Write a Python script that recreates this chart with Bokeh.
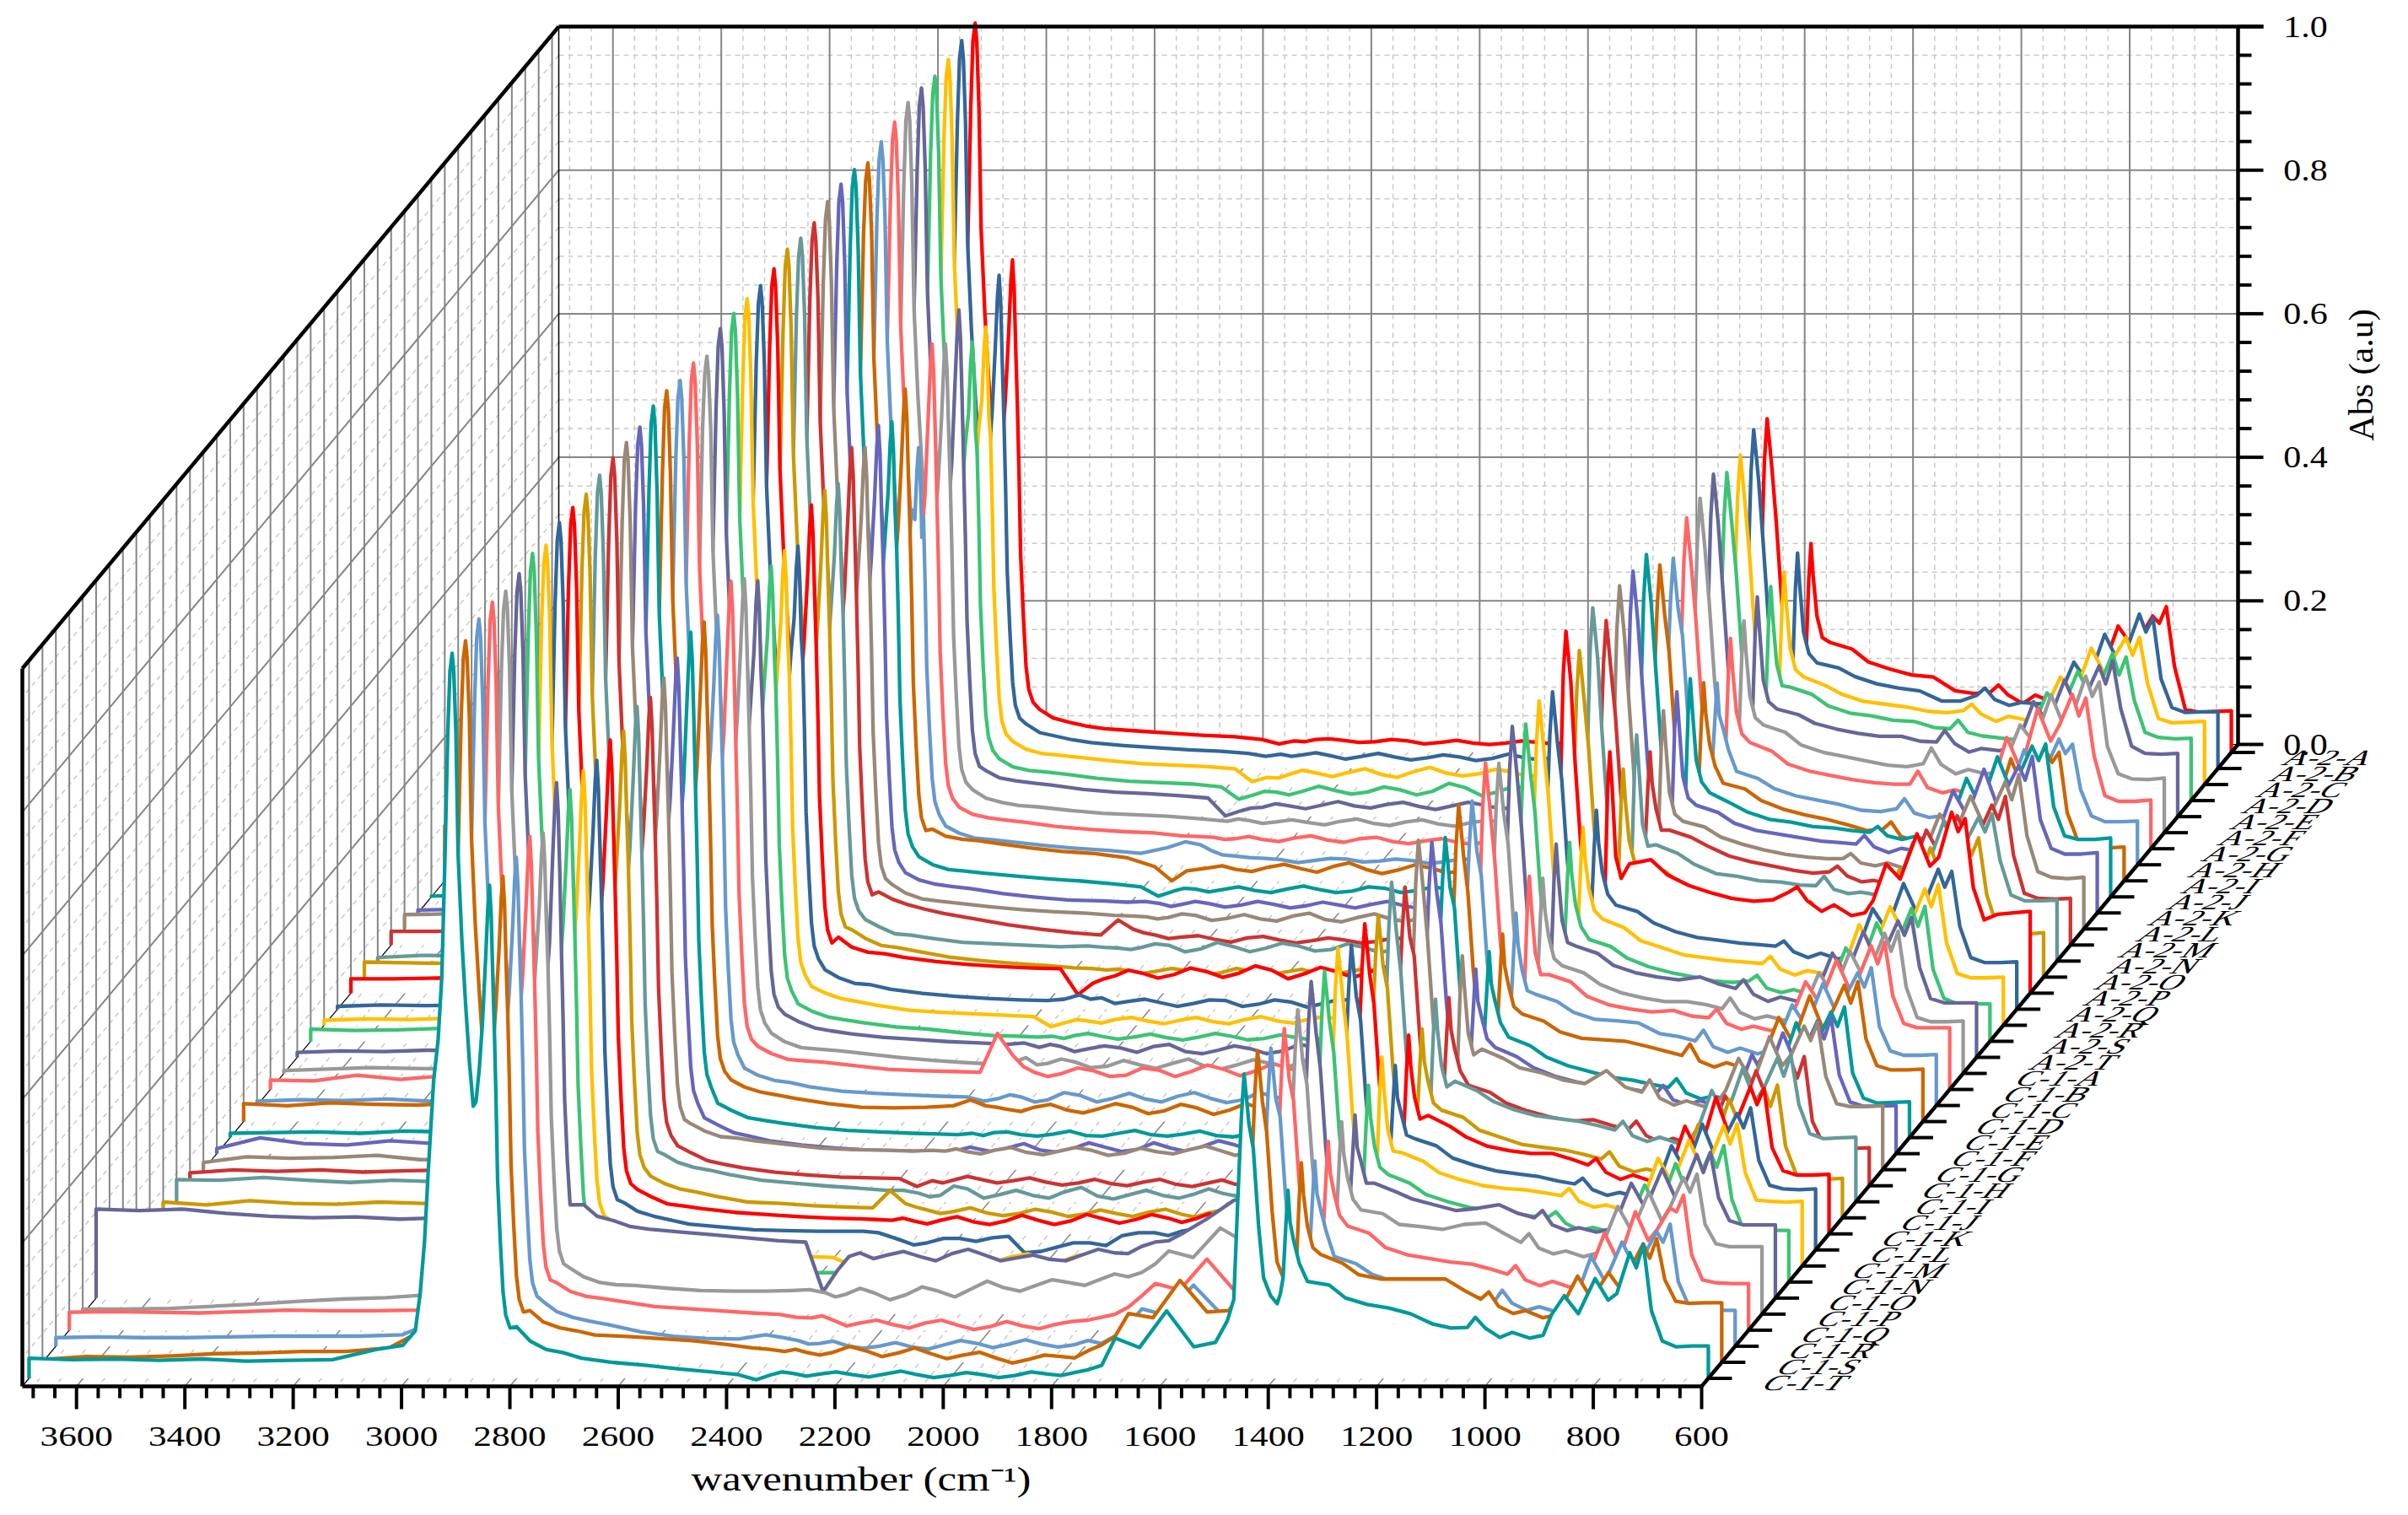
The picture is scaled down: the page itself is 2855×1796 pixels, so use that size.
from bokeh.plotting import figure
from bokeh.embed import file_html
from bokeh.resources import INLINE
from bokeh.core.properties import value
import math

LETTERS = list("ABCDEFGHIJKLMNOPQRST")
SAMPLES = ["A-2-" + c for c in LETTERS] + ["C-1-" + c for c in LETTERS]
COLORS = ["#FF0000", "#336699", "#FFC000", "#3CC374", "#666699", "#999999", "#FF6666", "#6699CC",
          "#CC6600", "#009999", "#6666BB", "#998877", "#CC3333", "#669999", "#CC9900"]

X_TICKS = [3600, 3400, 3200, 3000, 2800, 2600, 2400, 2200, 2000, 1800, 1600, 1400, 1200, 1000, 800, 600]
Y_TICKS = [0.0, 0.2, 0.4, 0.6, 0.8, 1.0]

# wavenumber grids; absorbance is kept in thousandths
LEFT_W = [3700, 3620, 3540, 3460, 3380, 3300, 3220, 3140, 3060, 3010]
# shared band shapes: a number is an absorbance, (1, d) / (2, d) is d below the series' first / second peak top
CH_W = [2987, 2978, 2970, 2963, 2953, 2945, 2938, 2932, 2927, 2923, 2919, 2916, 2912, 2908, 2901, 2894, 2887, 2880,
        2875, 2869, 2863, 2857, 2853, 2850, 2847, 2844, 2841, 2838, 2835, 2830, 2825, 2820, 2812]
CH_A = [66, 118, 190, 290, 416, 470, 560, 731, 900, (1, 25), (1, 0), (1, 25), 900, 730, 610, 520, 440, 379,
        385, 430, 495, (2, 100), (2, 30), (2, 0), (2, 40), (2, 125), 484, 390, 275, 190, 120, 88, 70]
MID_W = [2800, 2775, 2745, 2715, 2680, 2620, 2560, 2500, 2440, 2390, 2358, 2330, 2290, 2240, 2180, 2120, 2060,
         2000, 1940, 1880, 1820, 1770, 1720, 1695, 1650, 1600, 1550, 1510, 1488]
FINE_W = [2310, 2265, 2210, 2150, 2090, 2030, 1970, 1910, 1850, 1795, 1745]
PK_W = [1476, 1468, 1462, 1457, 1453, 1448, 1440, 1430, 1421, 1408, 1396, 1390, 1385, 1380, 1376, 1372, 1365, 1355]
PK_A = [110, 260, (1, 60), (1, 0), (1, 30), (1, 70), 320, 210, 140, 115, 104, 118, 140, (2, 50), (2, 0), (2, 45), 190, 160]
FP_W = [1340, 1300, 1270, 1230, 1190, 1150, 1110, 1075, 1045, 1030, 1012, 985, 962, 930, 905, 890, 866, 840, 809,
        785, 769, 745, 733, 720, 705, 685, 660, 630, 600]

TOP_2920 = [1016, 1014, 1010, 1009, 1015, 1017, 1012, 1007, 1000, 1013, 1015, 1013, 1006, 1007, 1014, 1009, 1008, 1012,
            1014, 1015, 999, 1012, 1010, 1018, 1019, 1012, 1013, 1014, 1012, 1008, 1012, 1013, 1004, 1015, 1009, 1007,
            1014, 1013, 1005, 1010]
TOP_2850 = [686, 687, 637, 639, 706, 681, 703, 581, 685, 662, 679, 671, 693, 665, 678, 680, 645, 661, 662, 664,
            689, 708, 683, 696, 704, 690, 685, 680, 690, 678, 688, 682, 690, 686, 718, 670, 688, 681, 677, 687]
TOP_1457 = [465, 472, 459, 457, 477, 466, 461, 427, 440, 477, 476, 478, 452, 492, 455, 504, 442, 452, 442, 461,
            432, 455, 424, 441, 418, 434, 459, 416, 445, 421, 432, 424, 443, 433, 441, 424, 420, 415, 434, 424]
TOP_1376 = [291, 300, 296, 298, 306, 295, 293, 253, 276, 304, 308, 304, 269, 315, 290, 336, 277, 276, 277, 297,
            272, 297, 268, 261, 259, 257, 298, 262, 282, 263, 277, 257, 291, 274, 255, 268, 263, 258, 278, 262]

LEFT = [
    [12, 13, 12, 13, 14, 12, 13, 12, 14, 17], [18, 17, 18, 19, 17, 18, 17, 19, 18, 22],
    [15, 14, 16, 15, 14, 15, 14, 16, 15, 19], [13, 14, 13, 15, 14, 13, 15, 14, 15, 18],
    [16, 15, 17, 16, 15, 16, 17, 15, 16, 20], [14, 13, 15, 14, 13, 14, 15, 14, 15, 18],
    [12, 13, 12, 14, 12, 13, 12, 14, 13, 16], [10, 11, 10, 12, 11, 10, 12, 11, 13, 15],
    [76, 70, 68, 66, 64, 62, 60, 58, 58, 60], [1, 3, 2, 4, 3, 5, 4, 3, 4, 6],
    [4, 5, 4, 6, 5, 7, 5, 6, 4, 6], [20, 21, 22, 20, 22, 21, 20, 22, 21, 22],
    [19, 19, 20, 18, 21, 19, 20, 19, 21, 20], [5, 8, 7, 10, 9, 7, 10, 8, 9, 11],
    [21, 20, 19, 20, 18, 21, 19, 20, 18, 20], [20, 20, 21, 23, 26, 24, 27, 29, 31, 33],
    [4, 6, 5, 6, 4, 6, 5, 6, 5, 7], [7, 9, 8, 10, 9, 11, 9, 10, 12, 10],
    [17, 15, 16, 18, 15, 17, 16, 18, 16, 17], [7, 9, 8, 10, 8, 9, 10, 9, 11, 12],
    [4, 6, 8, 7, 6, 10, 9, 8, 11, 12], [13, 12, 20, 14, 19, 14, 18, 12, 13, 16],
    [6, 8, 7, 9, 6, 8, 7, 9, 8, 10], [25, 22, 26, 24, 23, 26, 24, 25, 27, 28],
    [6, 7, 8, 6, 9, 8, 10, 9, 10, 10], [7, 22, 14, 12, 18, 14, 20, 25, 28, 32],
    [10, 18, 16, 17, 20, 14, 15, 18, 16, 18], [18, 22, 20, 22, 19, 21, 22, 20, 22, 20],
    [31, 30, 34, 30, 27, 30, 28, 29, 31, 30], [22, 18, 24, 20, 19, 22, 20, 21, 19, 24],
    [18, 17, 19, 18, 16, 18, 20, 18, 19, 24], [16, 17, 18, 16, 19, 18, 17, 20, 22, 26],
    [18, 19, 18, 20, 19, 18, 21, 19, 22, 28], [20, 20, 22, 20, 19, 21, 20, 22, 24, 30],
    [124, 122, 124, 118, 114, 112, 113, 110, 112, 114], [7, 7, 8, 11, 14, 18, 21, 23, 27, 33],
    [25, 26, 25, 24, 26, 28, 27, 27, 28, 36], [12, 13, 12, 12, 13, 14, 14, 14, 16, 32],
    [4, 8, 7, 9, 12, 13, 15, 15, 20, 40], [28, 26, 27, 25, 27, 24, 25, 26, 40, 46],
]

MID = [
    [60, 48, 42, 37, 33, 30, 27, 24, 22, 18, 12, 16, 18, 17, 15, 16, 14, 13, 13, 14, 14, 13, 12, 14, 13, 12, 14, 16, 28],
    [62, 50, 45, 40, 36, 32, 29, 26, 24, 21, 17, 20, 19, 18, 17, 16, 15, 16, 14, 15, 17, 16, 15, 14, 15, 16, 17, 19, 30],
    [60, 49, 43, 41, 38, 33, 29, 27, 25, 22, 4, 10, 14, 16, 17, 14, 18, 16, 15, 18, 14, 20, 16, 15, 17, 18, 16, 20, 32],
    [58, 47, 42, 40, 37, 31, 27, 25, 23, 19, 2, 8, 12, 13, 14, 12, 15, 13, 18, 12, 16, 14, 13, 15, 14, 16, 15, 20, 30],
    [64, 54, 50, 47, 44, 38, 34, 32, 29, 26, 1, 8, 13, 15, 16, 15, 17, 14, 15, 16, 13, 15, 14, 15, 14, 16, 15, 20, 32],
    [60, 48, 42, 38, 36, 31, 27, 25, 23, 20, 18, 16, 17, 15, 14, 16, 13, 15, 12, 14, 15, 14, 13, 12, 13, 15, 14, 18, 28],
    [58, 48, 43, 40, 37, 31, 27, 24, 22, 18, 17, 16, 14, 13, 15, 12, 14, 10, 11, 9, 12, 10, 11, 9, 10, 11, 12, 18, 27],
    [54, 44, 37, 35, 32, 27, 23, 20, 16, 24, 32, 28, 14, 10, 7, 6, 8, 5, 6, 4, 7, 3, 5, 6, 5, 6, 8, 12, 22],
    [72, 62, 58, 56, 52, 46, 41, 38, 32, 20, 0, 14, 18, 16, 19, 17, 20, 16, 15, 18, 14, 16, 17, 14, 16, 15, 14, 18, 28],
    [56, 45, 38, 36, 33, 29, 25, 22, 18, 14, 1, 8, 11, 10, 9, 11, 10, 8, 12, 9, 10, 11, 9, 10, 11, 10, 12, 16, 25],
    [56, 46, 40, 37, 34, 27, 22, 18, 17, 15, 16, 13, 12, 13, 11, 12, 10, 11, 12, 10, 11, 10, 12, 11, 10, 11, 12, 15, 24],
    [62, 50, 42, 39, 36, 31, 27, 24, 22, 19, 18, 17, 16, 19, 15, 14, 18, 13, 16, 14, 17, 15, 14, 16, 15, 13, 16, 18, 26],
    [74, 64, 56, 50, 44, 36, 28, 22, 17, 14, 35, 22, 14, 11, 8, 10, 7, 6, 7, 5, 8, 4, 6, 5, 7, 5, 8, 12, 22],
    [58, 48, 38, 36, 32, 26, 24, 22, 20, 21, 19, 18, 19, 22, 17, 20, 18, 21, 16, 19, 17, 20, 18, 19, 17, 18, 20, 22, 30],
    [66, 54, 44, 41, 36, 28, 23, 19, 16, 13, 12, 10, 9, 8, 9, 6, 8, 7, 5, 8, 6, 9, 7, 6, 8, 7, 9, 14, 24],
    [78, 64, 57, 55, 50, 44, 40, 37, 35, 34, -2, 14, 24, 28, 26, 30, 28, 32, 27, 30, 29, 31, 28, 30, 32, 29, 30, 33, 42],
    [55, 44, 36, 34, 28, 22, 18, 15, 13, 12, 14, 20, 16, 11, 9, 8, 12, 7, 10, 8, 11, 9, 8, 11, 9, 10, 12, 16, 26],
    [54, 45, 37, 33, 28, 21, 18, 16, 14, 12, -2, 4, 6, 8, 6, 7, 5, 8, 6, 9, 7, 5, 8, 6, 7, 6, 9, 13, 24],
    [52, 42, 34, 30, 26, 20, 17, 12, 8, 7, 6, 7, 8, 7, 6, 5, 6, 7, 4, 5, 6, 7, 4, 5, 6, 5, 7, 12, 22],
    [60, 50, 41, 37, 33, 28, 25, 22, 20, 18, 20, 14, 15, 12, 13, 15, 8, 10, 12, 9, 14, 6, 9, 7, 8, 6, 10, 14, 25],
    [56, 44, 36, 34, 32, 27, 22, 18, 15, 13, 14, 22, 14, 16, 10, 12, 14, 10, 12, 14, 16, 18, 12, 14, 16, 15, 18, 22, 32],
    [60, 50, 42, 40, 38, 33, 28, 26, 25, 24, 78, 48, 24, 22, 26, 20, 27, 25, 28, 26, 30, 32, 29, 31, 30, 33, 30, 34, 42],
    [52, 42, 35, 32, 26, 20, 17, 15, 13, 12, 6, 10, 12, 8, 14, 10, 9, 13, 10, 8, 12, 14, 11, 13, 12, 14, 13, 17, 26],
    [58, 48, 41, 37, 32, 25, 20, 19, 20, 22, 30, 22, 17, 20, 16, 18, 20, 15, 19, 16, 18, 14, 17, 15, 16, 17, 15, 18, 28],
    [48, 38, 28, 24, 20, 14, 10, 8, 6, 5, 4, 6, 7, 4, 5, 3, 6, 4, 5, 3, 5, 7, 4, 5, 6, 4, 5, 10, 20],
    [50, 40, 29, 24, 18, 12, 8, 5, 4, 3, 2, 5, 6, 8, 5, 7, 9, 6, 8, 10, 12, 11, 13, 12, 14, 11, 12, 14, 22],
    [64, 54, 46, 44, 40, 35, 30, 28, 27, 26, 27, 26, 25, 27, 24, 26, 27, 23, 25, 28, 26, 24, 27, 26, 28, 27, 30, 32, 40],
    [56, 46, 35, 30, 25, 19, 15, 12, 11, 10, -1, 7, 8, 9, 7, 5, 4, 3, 5, 2, 4, 2, 3, 5, 2, 4, 6, 10, 18],
    [66, 55, 48, 44, 38, 30, 26, 22, 19, 16, 16, 12, 9, 18, 10, 9, 14, 8, 10, 9, 11, 12, 14, 12, 15, 14, 18, 22, 30],
    [58, 48, 40, 36, 30, 22, 20, 17, 15, 14, 38, 20, 11, 9, 7, 6, 8, 5, 6, 8, 5, 7, 4, 6, 5, 7, 8, 12, 22],
    [62, 52, 42, 39, 35, 30, 27, 24, 22, 21, 20, 19, 18, 19, 17, 18, 19, 18, 21, 20, 22, 21, 23, 25, 27, 30, 34, 42, 50],
    [66, 54, 47, 42, 36, 32, 28, 27, 26, 26, 26, 24, 14, 10, 16, 17, -4, 4, 10, 20, 24, 26, 32, 36, 40, 46, 52, 60, 68],
    [64, 52, 44, 38, 30, 24, 18, 15, 13, 12, 2, 8, 10, 12, 8, 11, 13, 10, 14, 16, 18, 20, 26, 30, 36, 42, 50, 58, 66],
    [60, 50, 42, 35, 28, 22, 18, 15, 14, 13, 13, 12, 13, 14, 12, 14, 15, 13, 16, 18, 22, 26, 32, 38, 44, 52, 58, 66, 74],
    [130, 114, 108, 100, 96, 92, 88, 84, 80, 78, 9, 40, 63, 60, 58, 62, 60, 56, 54, 60, 63, 72, 80, 90, 110, 136, 144, 135, 120],
    [64, 52, 44, 41, 40, 36, 33, 32, 32, 33, 34, 30, 28, 30, 27, 32, 35, 37, 40, 44, 49, 52, 70, 88, 79, 120, 98, 85, 80],
    [66, 54, 47, 44, 40, 33, 30, 27, 24, 22, 18, 17, 14, 10, 8, 10, 7, 5, 6, 8, 14, 22, 48, 65, 56, 99, 56, 50, 70],
    [62, 48, 40, 35, 30, 20, 14, 11, 10, 16, 12, 8, 4, 1, 0, -1, 2, 4, 3, 3, 2, 4, 30, 52, 43, 85, 46, 40, 60],
    [72, 56, 48, 44, 38, 36, 33, 30, 25, 20, 18, 15, 14, 14, 16, 13, 12, 10, 6, 4, 8, 16, 36, 68, 62, 114, 70, 72, 95],
    [72, 52, 40, 36, 28, 22, 18, 13, 9, 5, -2, 5, 7, 6, 5, 6, 5, 4, 5, 4, 6, 8, 18, 56, 43, 94, 44, 50, 80],
]

FINE = [
    [15, 19, 14, 18, 12, 17, 11, 16, 12, 16, 11], [17, 22, 13, 21, 12, 19, 11, 20, 12, 19, 13],
    [9, 20, 11, 22, 10, 24, 12, 21, 11, 25, 12], [13, 8, 20, 9, 19, 8, 24, 7, 20, 9, 17],
    [12, 18, 11, 21, 12, 20, 10, 20, 11, 19, 12], [19, 13, 18, 11, 19, 10, 18, 9, 17, 11, 16],
    [13, 17, 10, 18, 9, 16, 7, 14, 6, 15, 8], [20, 12, 9, 3, 9, 4, 8, 2, 8, 1, 7],
    [16, 21, 13, 23, 12, 25, 10, 22, 11, 23, 12], [12, 7, 14, 6, 15, 6, 14, 6, 14, 7, 13],
    [9, 16, 8, 16, 7, 15, 7, 16, 6, 15, 8], [14, 21, 12, 20, 11, 22, 10, 21, 10, 20, 11],
    [17, 9, 13, 4, 12, 3, 10, 3, 10, 2, 9], [16, 24, 13, 26, 13, 25, 14, 24, 12, 25, 13],
    [11, 5, 12, 3, 12, 3, 11, 4, 12, 3, 11], [20, 32, 21, 35, 22, 38, 20, 36, 22, 37, 23],
    [14, 8, 14, 4, 13, 4, 13, 3, 14, 4, 13], [8, 3, 11, 2, 11, 2, 12, 3, 12, 2, 11],
    [4, 11, 3, 10, 2, 11, 2, 9, 2, 11, 2], [18, 8, 16, 7, 18, 5, 16, 5, 18, 3, 12],
    [12, 20, 8, 18, 7, 20, 6, 19, 8, 24, 10], [32, 18, 30, 18, 30, 18, 34, 19, 36, 22, 37],
    [15, 5, 18, 5, 17, 5, 18, 4, 18, 6, 17], [20, 14, 24, 12, 25, 11, 24, 10, 25, 10, 24],
    [3, 8, 2, 9, 2, 10, 2, 9, 1, 10, 2], [9, 2, 14, 2, 15, 3, 15, 3, 18, 6, 18],
    [29, 22, 31, 21, 31, 20, 30, 22, 33, 20, 32], [4, 13, 4, 11, 1, 9, 0, 9, -1, 8, 0],
    [7, 22, 5, 16, 5, 20, 4, 16, 5, 18, 8], [15, 6, 14, 3, 12, 2, 11, 2, 12, 1, 11],
    [22, 14, 24, 13, 26, 13, 27, 15, 27, 16, 28], [19, 7, 16, 12, 19, -2, 10, 6, 24, 20, 30],
    [6, 15, 7, 14, 6, 17, 6, 18, 12, 22, 22], [16, 10, 18, 9, 19, 10, 19, 12, 22, 20, 30],
    [58, 55, 65, 52, 68, 52, 60, 52, 68, 62, 78], [24, 36, 20, 38, 24, 46, 32, 48, 40, 56, 58],
    [20, 6, 14, 3, 14, 1, 12, 2, 12, 18, 32], [3, 7, -3, 5, -4, 8, -2, 9, -1, 8, 14],
    [18, 10, 22, 8, 20, 5, 14, -1, 10, 6, 24], [9, 3, 9, 2, 10, 1, 8, 1, 9, 4, 12],
]

FP = [
    [153, 144, 126, 116, 108, 105, 86, 82, 84, 94, 80, 68, 80, 70, 75, 90, 120, 110, 176, 150, 160, 190, 180, 203, 120, 60, 56, 57, 58],
    [147, 140, 128, 118, 112, 108, 94, 94, 102, 112, 96, 88, 92, 90, 92, 105, 148, 120, 187, 150, 165, 215, 190, 210, 125, 85, 78, 79, 79],
    [150, 138, 126, 116, 112, 108, 102, 100, 103, 112, 98, 88, 95, 90, 92, 110, 150, 125, 190, 155, 175, 205, 180, 205, 140, 92, 86, 87, 88],
    [158, 148, 132, 122, 118, 112, 110, 102, 100, 112, 95, 90, 88, 85, 92, 105, 150, 125, 180, 145, 160, 205, 175, 200, 140, 95, 88, 86, 87],
    [150, 142, 130, 122, 116, 112, 112, 105, 104, 120, 102, 90, 95, 92, 95, 112, 160, 130, 190, 150, 170, 210, 185, 217, 150, 98, 88, 87, 88],
    [150, 140, 122, 112, 106, 100, 94, 92, 96, 118, 95, 82, 88, 82, 84, 105, 150, 125, 192, 148, 165, 218, 190, 210, 120, 82, 75, 74, 76],
    [148, 136, 118, 108, 102, 96, 92, 90, 90, 108, 85, 78, 82, 76, 80, 95, 155, 110, 195, 150, 172, 215, 185, 210, 130, 74, 66, 66, 68],
    [130, 120, 106, 96, 90, 84, 76, 74, 78, 92, 72, 66, 68, 62, 65, 78, 130, 95, 160, 120, 135, 175, 155, 168, 105, 68, 60, 60, 61],
    [136, 128, 112, 100, 92, 86, 78, 70, 72, 82, 62, 55, 60, 52, 56, 70, 130, 92, 170, 125, 140, 182, 165, 179, 95, 55, 47, 46, 47],
    [145, 130, 118, 108, 104, 98, 96, 92, 90, 98, 85, 80, 84, 78, 85, 115, 165, 125, 195, 150, 170, 210, 190, 213, 125, 85, 80, 80, 82],
    [150, 140, 125, 115, 110, 105, 100, 98, 96, 108, 92, 84, 90, 86, 90, 120, 170, 135, 200, 150, 170, 205, 185, 218, 130, 90, 82, 82, 84],
    [150, 142, 128, 118, 110, 104, 100, 98, 98, 105, 92, 88, 92, 84, 90, 115, 160, 130, 185, 145, 165, 205, 180, 215, 130, 80, 72, 70, 72],
    [160, 150, 138, 124, 116, 110, 104, 100, 102, 110, 96, 88, 90, 84, 90, 110, 160, 125, 180, 140, 155, 195, 175, 207, 125, 72, 65, 64, 65],
    [162, 150, 135, 122, 118, 112, 110, 106, 105, 118, 100, 94, 96, 92, 98, 115, 165, 130, 195, 150, 165, 200, 180, 205, 140, 92, 84, 84, 85],
    [160, 148, 130, 118, 110, 105, 98, 92, 94, 105, 88, 80, 82, 78, 82, 100, 150, 115, 180, 135, 150, 190, 170, 194, 115, 68, 60, 60, 62],
    [180, 186, 165, 150, 140, 132, 128, 130, 141, 148, 129, 114, 123, 108, 112, 129, 180, 159, 222, 177, 189, 252, 225, 243, 147, 102, 110, 112, 114],
    [145, 136, 120, 108, 100, 96, 92, 90, 88, 95, 80, 72, 78, 70, 74, 90, 140, 110, 175, 135, 150, 195, 170, 192, 115, 72, 65, 65, 66],
    [148, 136, 118, 108, 98, 94, 90, 88, 86, 96, 78, 70, 76, 72, 75, 90, 140, 105, 165, 130, 145, 190, 165, 196, 115, 72, 66, 66, 67],
    [142, 132, 116, 104, 96, 90, 84, 82, 84, 92, 74, 68, 72, 65, 70, 85, 130, 100, 165, 125, 140, 185, 160, 188, 100, 60, 52, 52, 52],
    [155, 145, 128, 118, 112, 108, 112, 102, 96, 108, 88, 78, 84, 78, 82, 100, 145, 115, 175, 135, 150, 190, 170, 195, 125, 82, 76, 76, 76],
    [150, 140, 124, 112, 105, 100, 100, 96, 90, 105, 85, 76, 80, 74, 80, 98, 140, 110, 170, 135, 150, 195, 170, 198, 120, 78, 72, 72, 73],
    [160, 150, 130, 118, 112, 108, 110, 102, 100, 112, 92, 84, 88, 82, 88, 105, 150, 120, 180, 140, 155, 200, 175, 205, 130, 92, 86, 86, 86],
    [155, 145, 130, 120, 118, 115, 100, 96, 90, 105, 82, 74, 80, 72, 78, 95, 140, 110, 170, 130, 150, 185, 165, 192, 110, 76, 70, 70, 71],
    [150, 140, 125, 116, 114, 112, 105, 98, 92, 108, 84, 76, 82, 74, 80, 98, 145, 110, 175, 130, 150, 190, 165, 195, 115, 78, 72, 72, 73],
    [140, 128, 112, 100, 92, 84, 80, 74, 70, 82, 62, 54, 58, 52, 58, 75, 125, 90, 160, 115, 135, 175, 155, 182, 90, 55, 48, 49, 50],
    [148, 135, 120, 108, 100, 94, 92, 88, 82, 95, 75, 68, 74, 66, 72, 88, 138, 102, 168, 125, 145, 185, 160, 190, 110, 72, 66, 66, 67],
    [168, 155, 142, 135, 125, 120, 138, 115, 108, 125, 100, 90, 96, 88, 94, 110, 155, 120, 185, 145, 160, 200, 180, 205, 130, 92, 88, 88, 89],
    [140, 130, 115, 104, 96, 90, 92, 84, 78, 90, 70, 60, 66, 58, 62, 80, 125, 95, 160, 115, 135, 175, 150, 180, 90, 58, 52, 52, 53],
    [168, 155, 140, 128, 120, 116, 112, 106, 100, 112, 92, 84, 90, 82, 88, 105, 155, 118, 185, 140, 160, 200, 175, 205, 135, 95, 88, 89, 90],
    [150, 140, 122, 112, 102, 98, 94, 88, 82, 92, 72, 64, 68, 62, 66, 82, 130, 95, 165, 120, 140, 180, 155, 185, 100, 60, 55, 54, 55],
    [165, 150, 135, 122, 116, 112, 112, 104, 96, 105, 86, 76, 82, 74, 78, 95, 150, 110, 190, 140, 160, 205, 180, 203, 120, 88, 82, 82, 83],
    [155, 145, 128, 118, 110, 106, 102, 96, 92, 100, 84, 76, 80, 74, 78, 95, 145, 110, 175, 130, 155, 190, 170, 198, 125, 90, 85, 84, 85],
    [158, 146, 130, 120, 112, 108, 106, 102, 98, 108, 90, 82, 85, 78, 82, 100, 150, 115, 175, 135, 150, 195, 170, 198, 130, 92, 90, 89, 90],
    [150, 138, 122, 112, 104, 100, 96, 92, 90, 98, 82, 72, 76, 70, 74, 92, 135, 100, 165, 120, 140, 180, 160, 190, 115, 75, 72, 72, 72],
    [160, 148, 138, 130, 122, 125, 130, 118, 112, 122, 102, 94, 98, 92, 96, 115, 160, 125, 180, 140, 155, 200, 175, 203, 140, 108, 102, 102, 102],
    [145, 140, 125, 122, 118, 125, 127, 112, 100, 112, 92, 84, 88, 80, 85, 105, 150, 115, 170, 130, 150, 190, 170, 195, 125, 98, 94, 94, 94],
    [145, 135, 115, 105, 100, 95, 92, 85, 78, 90, 70, 62, 68, 60, 62, 88, 135, 95, 165, 125, 140, 170, 165, 188, 105, 70, 66, 65, 65],
    [125, 115, 100, 90, 84, 80, 75, 68, 62, 78, 60, 50, 55, 48, 52, 75, 125, 90, 145, 110, 125, 160, 145, 170, 90, 55, 50, 50, 50],
    [150, 138, 122, 116, 116, 116, 116, 100, 88, 98, 78, 68, 72, 62, 66, 85, 120, 88, 125, 100, 130, 165, 145, 172, 115, 85, 82, 83, 83],
    [135, 130, 112, 103, 98, 90, 76, 70, 71, 85, 70, 57, 64, 56, 60, 88, 115, 90, 139, 109, 118, 175, 154, 187, 94, 52, 44, 45, 45],
]

for name, tab, n in (("LEFT", LEFT, len(LEFT_W)), ("MID", MID, len(MID_W)), ("FINE", FINE, len(FINE_W)), ("FP", FP, len(FP_W))):
    for k, row in enumerate(tab):
        if len(row) != n:
            raise ValueError(f"{name} row {k} has {len(row)} values, expected {n}")

# projection of the waterfall box onto the page (the figure's ranges are page pixels)
X_BACK_L, X_BACK_R, Y_TOP, Y_FLOOR = 662.0, 2653.0, 31.0, 882.0
DX, DY = 636.0 / 40, 761.0 / 40
PX_W = (X_BACK_R - X_BACK_L) / 3100.0
PX_A = Y_FLOOR - Y_TOP


def wx(w, d=0.0):
    return X_BACK_L + (3700 - w) * PX_W - DX * d


def ay(a, d=0.0):
    return Y_FLOOR - a * PX_A + DY * d


WIDTH, HEIGHT = 2839, 1780
p = figure(width=WIDTH, height=HEIGHT, x_range=(0, WIDTH), y_range=(HEIGHT, 0),
           output_backend="svg", toolbar_location=None, x_axis_location=None, y_axis_location=None,
           min_border=0, outline_line_color=None, background_fill_color="white", border_fill_color="white")
p.grid.visible = False

GRID = "#858585"
DASH = "#c9c9c9"
BLACK = "#000000"


def seg(x0, y0, x1, y1, color, width, dash="solid"):
    p.segment(x0, y0, x1, y1, line_color=color, line_width=width, line_dash=dash)


def resolve(seq, top1, top2):
    return [v if not isinstance(v, tuple) else (top1 if v[0] == 1 else top2) - v[1] for v in seq]


w_minor = [w for w in range(3680, 599, -40) if w % 200 != 0]
a_minor = [k * 0.04 for k in range(1, 25) if k % 5 != 0]
a_major = Y_TICKS[1:5]
D = 40

# minor grid: back wall, floor, side wall
seg([wx(w) for w in w_minor], [ay(1)] * len(w_minor), [wx(w) for w in w_minor], [ay(0)] * len(w_minor), DASH, 1.5, "6 5")
seg([X_BACK_L] * len(a_minor), [ay(a) for a in a_minor], [X_BACK_R] * len(a_minor), [ay(a) for a in a_minor], DASH, 1.5, "6 5")
seg([wx(w) for w in w_minor], [ay(0)] * len(w_minor), [wx(w, D) for w in w_minor], [ay(0, D)] * len(w_minor), DASH, 1.5, "6 5")
seg([X_BACK_L] * len(a_minor), [ay(a) for a in a_minor], [wx(3700, D)] * len(a_minor), [ay(a, D) for a in a_minor], DASH, 1.5, "6 5")

# major grid
seg([wx(w) for w in X_TICKS[:-1]], [ay(1)] * 15, [wx(w) for w in X_TICKS[:-1]], [ay(0)] * 15, GRID, 2)
seg([X_BACK_L] * 4, [ay(a) for a in a_major], [X_BACK_R] * 4, [ay(a) for a in a_major], GRID, 2)
seg([wx(w) for w in X_TICKS[:-1]], [ay(0)] * 15, [wx(w, D) for w in X_TICKS[:-1]], [ay(0, D)] * 15, GRID, 1.5)
seg([X_BACK_L] * 4, [ay(a) for a in a_major], [wx(3700, D)] * 4, [ay(a, D) for a in a_major], GRID, 2)
depth = [k + 0.5 for k in range(D)]
seg([wx(3700, d) for d in depth], [ay(1, d) for d in depth], [wx(3700, d) for d in depth], [ay(0, d) for d in depth], GRID, 2)

# thin box edges at the back
seg([X_BACK_L], [ay(1)], [X_BACK_L], [ay(0)], BLACK, 1.5)
seg([X_BACK_L], [ay(0)], [X_BACK_R], [ay(0)], BLACK, 1.2)
seg([X_BACK_L], [ay(0)], [wx(3700, D)], [ay(0, D)], BLACK, 1.2)

# spectra, back to front, each hiding what lies behind it
for i in range(D):
    ch = resolve(CH_A, TOP_2920[i], TOP_2850[i])
    ch = ch[:-3] + [max(v, MID[i][0]) if MID[i][0] > 100 else v for v in ch[-3:]]
    pk = resolve(PK_A, TOP_1457[i], TOP_1376[i])
    mid = sorted(zip(MID_W + FINE_W, MID[i] + FINE[i]), reverse=True)
    ws = LEFT_W + CH_W + [m[0] for m in mid] + PK_W + FP_W
    vals = LEFT[i] + ch + [m[1] for m in mid] + pk + FP[i]
    d = i + 0.5
    xs = [wx(w, d) for w in ws]
    ys = [ay(v / 1000.0, d) for v in vals]
    x0, x1, y0 = xs[0], xs[-1], ay(0, d)
    col = COLORS[i % len(COLORS)]
    p.patch([x0] + xs + [x1], [y0] + ys + [y0], fill_color="white", line_color=None)
    p.line([x0] + xs + [x1], [y0] + ys + [y0], line_color=col, line_width=4.3, line_join="round")

# axes
AW = 4.5
seg([wx(3700, D)], [ay(0, D)], [wx(600, D)], [ay(0, D)], BLACK, AW)
seg([wx(600, D)], [ay(0, D)], [X_BACK_R], [ay(0)], BLACK, AW)
seg([X_BACK_R], [ay(0)], [X_BACK_R], [ay(1)], BLACK, AW)
seg([wx(3700, D)], [ay(0, D)], [wx(3700, D)], [ay(1, D)], BLACK, AW)
seg([wx(3700, D)], [ay(1, D)], [X_BACK_L], [ay(1)], BLACK, AW)
seg([X_BACK_L], [ay(1)], [X_BACK_R + 30], [ay(1)], BLACK, AW)

# x ticks
seg([wx(w, D) for w in X_TICKS], [ay(0, D)] * 16, [wx(w, D) for w in X_TICKS], [ay(0, D) + 27] * 16, BLACK, 4)
seg([wx(w, D) for w in w_minor], [ay(0, D)] * len(w_minor), [wx(w, D) for w in w_minor], [ay(0, D) + 14] * len(w_minor), BLACK, 4)
# y ticks
seg([X_BACK_R] * 6, [ay(a) for a in Y_TICKS], [X_BACK_R + 30] * 6, [ay(a) for a in Y_TICKS], BLACK, 4)
seg([X_BACK_R] * len(a_minor), [ay(a) for a in a_minor], [X_BACK_R + 16] * len(a_minor), [ay(a) for a in a_minor], BLACK, 4)
# depth ticks
seg([wx(600, d) for d in depth], [ay(0, d) for d in depth], [wx(600, d) + 28 for d in depth], [ay(0, d) for d in depth], BLACK, 4)

SERIF = value("Liberation Serif")
p.text([wx(w, D) for w in X_TICKS], [1702] * 16, text=[str(w) for w in X_TICKS], text_font=SERIF,
       text_font_size="34px", text_align="center", text_baseline="middle", text_color="black")
p.text([2733] * 6, [ay(a) for a in Y_TICKS], text=[f"{a:.1f}" for a in Y_TICKS], text_font=SERIF,
       text_font_size="35px", text_align="center", text_baseline="middle", text_color="black")
p.text([wx(600, d) + 116 for d in depth], [ay(0, d) + 6 for d in depth], text=SAMPLES, text_font=SERIF,
       text_font_size="26px", text_align="center", text_baseline="middle", text_color="black")
p.text([1021], [1753], text=["wavenumber (cm\u207b\u00b9)"], text_font=SERIF, text_font_size="40px",
       text_align="center", text_baseline="middle", text_color="black")
p.text([2799], [444], text=["Abs (a.u)"], angle=[math.pi / 2], text_font=SERIF, text_font_size="42px",
       text_align="center", text_baseline="middle", text_color="black")

# the reference's labels are stretched and sheared with the box; apply that to the SVG text once it exists
SHEAR_JS = """
<script>
(function () {
  var rules = [[/^[AC]-\\d-[A-Z]$/, 1.5, -0.84], [/^\\d{3,4}$/, 1.27, 0], [/^\\d\\.\\d$/, 1.2, 0], [/^wavenumber/, 1.27, 0]];
  function walk(root, out) {
    root.querySelectorAll('*').forEach(function (e) {
      if (e.tagName.toLowerCase() === 'text') out.push(e);
      if (e.shadowRoot) walk(e.shadowRoot, out);
    });
    return out;
  }
  var n = 0, t = setInterval(function () {
    var texts = walk(document, []);
    if (texts.length >= 62 || ++n > 100) {
      clearInterval(t);
      texts.forEach(function (e) {
        var s = e.textContent;
        rules.forEach(function (r) {
          if (!r[0].test(s) || e.dataset.done) return;
          e.dataset.done = '1';
          var b = e.getBBox(), cx = b.x + b.width / 2, cy = b.y + b.height / 2;
          var old = e.getAttribute('transform') || '';
          e.setAttribute('transform', old + ' translate(' + cx + ',' + cy + ') matrix(' + r[1] + ',0,' + r[2] + ',1,0,0) translate(' + (-cx) + ',' + (-cy) + ')');
        });
      });
    }
  }, 100);
})();
</script>
"""
html = file_html(p, INLINE)
html = html.replace("</body>", SHEAR_JS + "</body>")
open("out.html", "w").write(html)
